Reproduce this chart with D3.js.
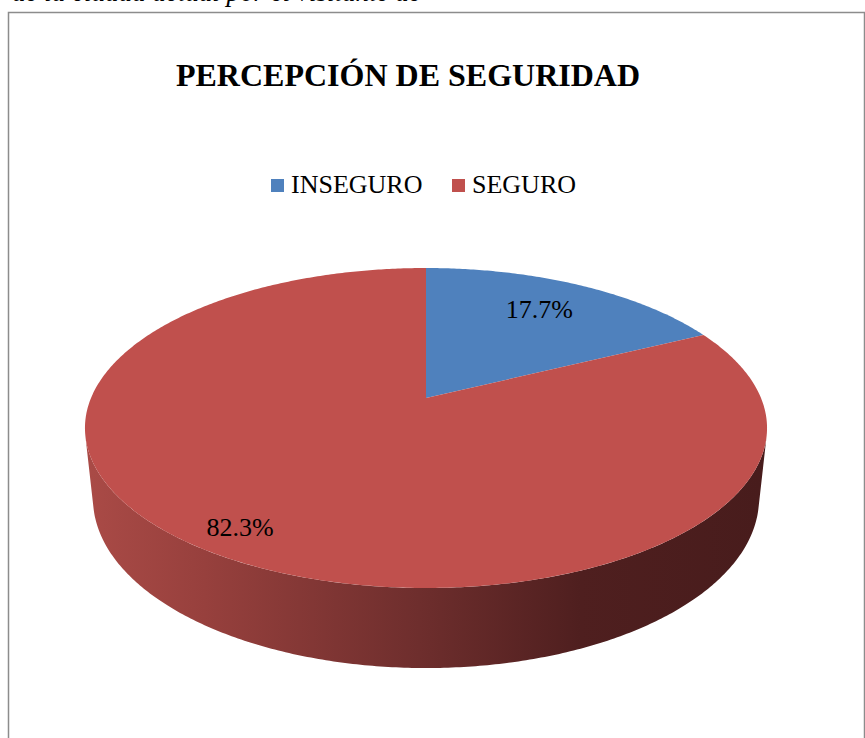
<!DOCTYPE html>
<html>
<head>
<meta charset="utf-8">
<script src="https://cdn.jsdelivr.net/npm/d3@7"></script>
<style>
  body { margin: 0; background: #fff; }
  svg { display: block; }
  text { font-family: "Liberation Serif", "Times New Roman", Times, serif; }
</style>
</head>
<body>
<svg id="chart"></svg>
<script>
// Chart data
var categories = ["INSEGURO", "SEGURO"];
var values = [17.7, 82.3];
var sliceColors = ["#4f81bd", "#c0504d"];
var titleText = "PERCEPCIÓN DE SEGURIDAD";
var captionText = "de la ciudad actual por el visitante de";

var width = 865, height = 738;

var svg = d3.select("#chart")
    .attr("width", width)
    .attr("height", height);

// Frame around the chart
svg.append("rect")
    .attr("x", 8.5).attr("y", 12.5)
    .attr("width", 856).attr("height", 740)
    .attr("fill", "none")
    .attr("stroke", "#8c8c8c")
    .attr("stroke-width", 1.5);

// Caption cut off at the top of the page
svg.append("text")
    .attr("x", 12).attr("y", 1)
    .attr("font-style", "italic")
    .attr("font-size", 27)
    .attr("fill", "#000")
    .text(captionText);

// Title
svg.append("text")
    .attr("x", 408).attr("y", 86)
    .attr("text-anchor", "middle")
    .attr("font-weight", "bold")
    .attr("font-size", 32)
    .text(titleText);

// Legend
var legendX = [271, 452];
var legend = svg.selectAll("g.legend")
    .data(categories)
    .enter().append("g")
      .attr("class", "legend")
      .attr("transform", function(d, i) { return "translate(" + legendX[i] + ",179)"; });

legend.append("rect")
    .attr("width", 13).attr("height", 13)
    .attr("fill", function(d, i) { return sliceColors[i]; });

legend.append("text")
    .attr("x", 20).attr("y", 14)
    .attr("font-size", 26)
    .text(function(d) { return d; });

// Perspective camera for the 3D pie (fitted to the picture)
var cx = 426, cy = 398,
    f = 1585.5, dist = 4.733,
    tilt = Math.asin(0.4608),
    cosT = Math.cos(tilt), sinT = Math.sin(tilt),
    depth = 0.24;

// theta: pie angle (0 = back, clockwise), r: radius (0..1), y: height (0 top, -depth bottom)
function project(theta, r, y) {
    var x = r * Math.sin(theta),
        z = -r * Math.cos(theta);
    var yc = y * cosT - z * sinT,
        zc = dist - (z * cosT + y * sinT);
    return [cx + f * x / zc, cy - f * yc / zc];
}

function arcAngles(a0, a1) {
    var n = Math.max(2, Math.ceil((a1 - a0) / 0.01));
    return d3.range(n + 1).map(function(i) { return a0 + (a1 - a0) * i / n; });
}

var pie = d3.pie().sort(null).value(function(d) { return d; });
var arcs = pie(values);

var line = d3.line();

// Side gradient, light on the left, dark on the right
var grad = svg.append("defs").append("linearGradient")
    .attr("id", "sideGrad")
    .attr("gradientUnits", "userSpaceOnUse")
    .attr("x1", project(-Math.PI / 2, 1, 0)[0]).attr("y1", 0)
    .attr("x2", project(Math.PI / 2, 1, 0)[0]).attr("y2", 0);

[[0, "#a94a46"], [0.17, "#97403d"], [0.49, "#6e2e2d"], [0.73, "#4f1f1f"], [1, "#481c1c"]]
    .forEach(function(s) {
        grad.append("stop").attr("offset", s[0]).attr("stop-color", s[1]);
    });

// Visible part of the side wall: where the camera sees the front
var camZ = dist * cosT;
var tangent = Math.acos(-1 / camZ);
var visStart = tangent, visEnd = 2 * Math.PI - tangent;

var g = svg.append("g");

// Side walls
arcs.forEach(function(a, i) {
    var a0 = Math.max(a.startAngle, visStart),
        a1 = Math.min(a.endAngle, visEnd);
    if (a1 <= a0) return;
    var angs = arcAngles(a0, a1);
    var pts = angs.map(function(t) { return project(t, 1, 0); })
        .concat(angs.slice().reverse().map(function(t) { return project(t, 1, -depth); }));
    g.append("path")
        .attr("d", line(pts) + "Z")
        .attr("fill", "url(#sideGrad)");
});

// Top faces
g.selectAll("path.top")
    .data(arcs)
    .enter().append("path")
      .attr("class", "top")
      .attr("fill", function(d, i) { return sliceColors[i]; })
      .attr("d", function(d) {
          var pts = [project(0, 0, 0)].concat(arcAngles(d.startAngle, d.endAngle)
              .map(function(t) { return project(t, 1, 0); }));
          return line(pts) + "Z";
      });

// Percentage labels (radius on the pie plus a small nudge, as Excel placed them)
var labelRadius = [0.7, 0.85];
var labelNudge = [[2, -7], [-12, 0]];
g.selectAll("text.label")
    .data(arcs)
    .enter().append("text")
      .attr("class", "label")
      .attr("transform", function(d, i) {
          var mid = (d.startAngle + d.endAngle) / 2;
          var p = project(mid, labelRadius[i], 0);
          return "translate(" + (p[0] + labelNudge[i][0]) + "," + (p[1] + labelNudge[i][1]) + ")";
      })
      .attr("text-anchor", "middle")
      .attr("dy", "0.35em")
      .attr("font-size", 26)
      .text(function(d) { return d.data.toFixed(1) + "%"; });
</script>
</body>
</html>
